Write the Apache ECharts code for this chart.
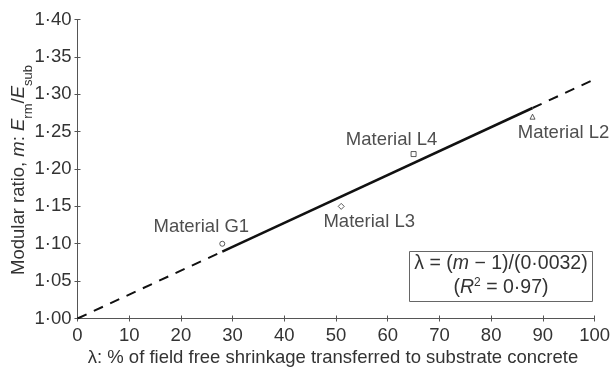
<!DOCTYPE html>
<html>
<head>
<meta charset="utf-8">
<script src="https://cdn.jsdelivr.net/npm/echarts@6/dist/echarts.min.js"></script>
<style>
  html, body { margin: 0; padding: 0; background: #fff; }
  #chart { width: 613px; height: 369px; }
</style>
</head>
<body>
<div id="chart"></div>
<script>
// Measured materials: lambda (%) against modular ratio m
const materials = ['Material G1', 'Material L3', 'Material L4', 'Material L2'];
const lambdaValues = [28, 51, 65, 88];
const modularRatio = [1.10, 1.15, 1.22, 1.27];
const markerShapes = ['circle', 'diamond', 'rect', 'triangle'];

// Fitted line m = 1 + 0.0032·λ: solid over the measured range, dashed outside it
const fitSolidX = [28, 88];
const fitSolidY = [1.0896, 1.2816];
const fitLowX = [0, 28];
const fitLowY = [1.00, 1.0896];
const fitHighX = [88, 100];
const fitHighY = [1.2816, 1.32];

const xTicks = { min: 0, max: 100, step: 10 };
const yTicks = { min: 1.00, max: 1.40, step: 0.05 };

// Label placement around each marker (pixels)
const labelShift = [[-21, -17], [28, 16], [-22, -14], [31, 16]];

const FONT = "'Liberation Sans', Arial, sans-serif";
const FS = 18.5;
const INK = '#333';
const fmtDot = v => v.toFixed(2).replace('.', '\u00B7');

const pairs = (xs, ys) => xs.map((x, i) => [x, ys[i]]);

const chart = echarts.init(document.getElementById('chart'), null, { renderer: 'canvas' });

const gridBox = { left: 77.5, right: 18, top: 19.5, bottom: 50.5 };

chart.setOption({
  animation: false,
  backgroundColor: '#fff',
  grid: gridBox,
  xAxis: [{
    type: 'value', min: xTicks.min, max: xTicks.max, interval: xTicks.step,
    axisLine: { show: true, lineStyle: { color: '#555', width: 1 } },
    axisTick: { show: true, length: 3, lineStyle: { color: '#555' } },
    axisLabel: { color: INK, fontFamily: FONT, fontSize: FS, margin: 8 },
    splitLine: { show: false }
  }, {
    type: 'value', min: xTicks.min, max: xTicks.max, interval: xTicks.step,
    position: 'bottom',
    axisLine: { show: false },
    axisTick: { show: true, inside: true, length: 3, lineStyle: { color: '#555' } },
    axisLabel: { show: false },
    splitLine: { show: false }
  }],
  yAxis: [{
    type: 'value', min: yTicks.min, max: yTicks.max, interval: yTicks.step,
    axisLine: { show: true, lineStyle: { color: '#555', width: 1 } },
    axisTick: { show: true, length: 3, lineStyle: { color: '#555' } },
    axisLabel: { color: INK, fontFamily: FONT, fontSize: FS, margin: 6, formatter: fmtDot },
    splitLine: { show: false }
  }, {
    type: 'value', min: yTicks.min, max: yTicks.max, interval: yTicks.step,
    position: 'left',
    axisLine: { show: false },
    axisTick: { show: true, inside: true, length: 3, lineStyle: { color: '#555' } },
    axisLabel: { show: false },
    splitLine: { show: false }
  }],
  series: [
    {
      type: 'line', data: pairs(fitLowX, fitLowY), showSymbol: false,
      lineStyle: { color: '#111', width: 2, type: [10, 8] }, z: 2
    },
    {
      type: 'line', data: pairs(fitHighX, fitHighY), showSymbol: false,
      lineStyle: { color: '#111', width: 2, type: [10, 8] }, z: 2
    },
    {
      type: 'line', data: pairs(fitSolidX, fitSolidY), showSymbol: false,
      lineStyle: { color: '#111', width: 2.5 }, z: 3
    },
    {
      type: 'scatter',
      z: 4,
      data: materials.map((name, i) => ({
        name,
        value: [lambdaValues[i], modularRatio[i]],
        symbol: markerShapes[i],
        symbolSize: markerShapes[i] === 'diamond' ? 6 : 5,
        label: {
          show: true, formatter: name, position: 'inside',
          offset: labelShift[i],
          color: '#222', fontFamily: FONT, fontSize: FS
        }
      })),
      itemStyle: { color: '#fff', borderColor: INK, borderWidth: 1 }
    }
  ],
  graphic: [
    // y-axis title with italic symbols and subscripts
    {
      type: 'text', x: 22, y: 170, rotation: Math.PI / 2,
      style: {
        text: '{n|Modular ratio, }{i|m}{n|: }{i|E}{s|rm}{n|/}{i|E}{s|sub}',
        align: 'center', verticalAlign: 'middle',
        fill: INK,
        rich: {
          n: { fontFamily: FONT, fontSize: FS, lineHeight: 21, verticalAlign: 'top', fill: INK },
          i: { fontFamily: FONT, fontSize: FS, fontStyle: 'italic', lineHeight: 21, verticalAlign: 'top', fill: INK },
          s: { fontFamily: FONT, fontSize: 13, lineHeight: 26, verticalAlign: 'bottom', fill: INK }
        }
      }
    },
    // x-axis title
    {
      type: 'text', x: 333, y: 358,
      style: {
        text: '\u03BB: % of field free shrinkage transferred to substrate concrete',
        align: 'center', verticalAlign: 'middle',
        fill: INK, fontFamily: FONT, fontSize: FS
      }
    },
    // regression equation box
    {
      type: 'rect', shape: { x: 409.5, y: 251.5, width: 183, height: 50 },
      style: { fill: '#fff', stroke: '#666', lineWidth: 1 }, z: 10
    },
    {
      type: 'text', x: 501, y: 264, z: 11,
      style: {
        text: '{n|\u03BB = (}{i|m}{n| \u2212 1)/(0\u00B70032)}',
        align: 'center', verticalAlign: 'middle',
        rich: {
          n: { fontFamily: FONT, fontSize: 19.5, fill: INK },
          i: { fontFamily: FONT, fontSize: 19.5, fontStyle: 'italic', fill: INK }
        }
      }
    },
    {
      type: 'text', x: 501, y: 287, z: 11,
      style: {
        text: '{n|(}{i|R}{p|2}{n| = 0\u00B797)}',
        align: 'center', verticalAlign: 'middle',
        rich: {
          n: { fontFamily: FONT, fontSize: 19.5, lineHeight: 21, verticalAlign: 'bottom', fill: INK },
          i: { fontFamily: FONT, fontSize: 19.5, fontStyle: 'italic', lineHeight: 21, verticalAlign: 'bottom', fill: INK },
          p: { fontFamily: FONT, fontSize: 12, lineHeight: 13, verticalAlign: 'top', fill: INK }
        }
      }
    }
  ]
});
</script>
</body>
</html>
